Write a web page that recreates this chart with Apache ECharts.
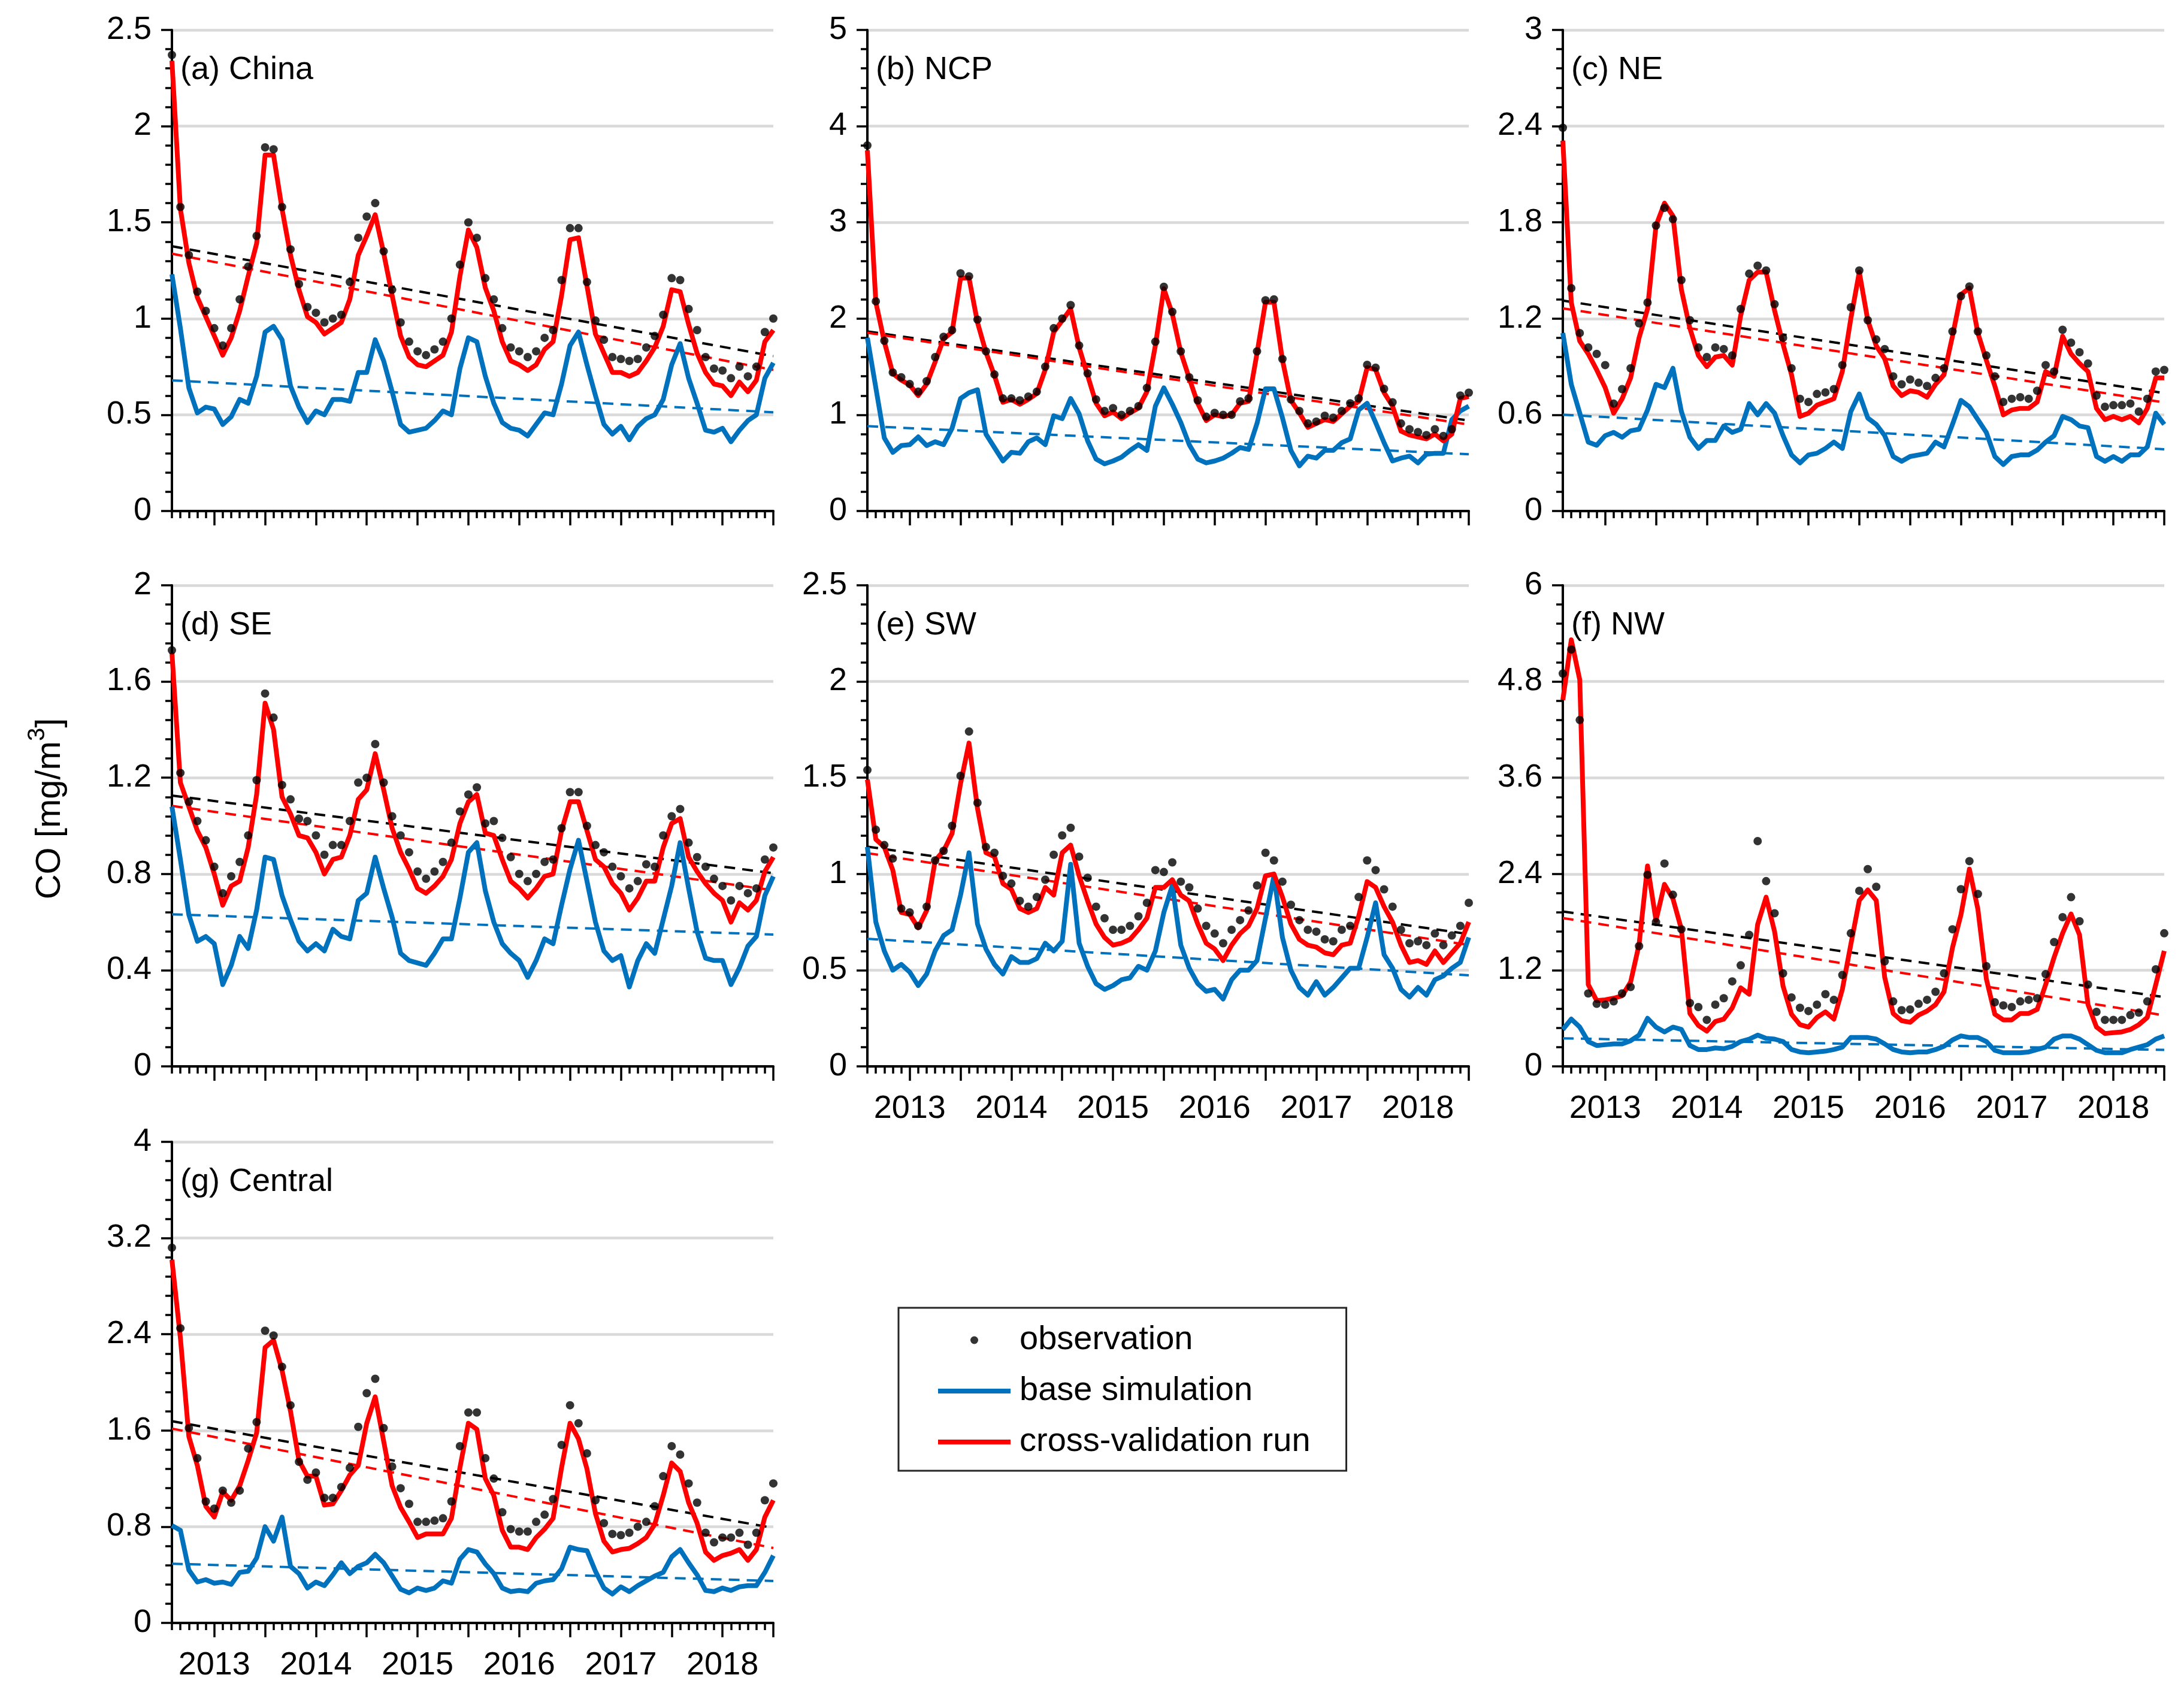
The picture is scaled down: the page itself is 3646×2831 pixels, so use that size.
<!DOCTYPE html>
<html><head><meta charset="utf-8">
<script src="https://cdn.jsdelivr.net/npm/echarts@6/dist/echarts.min.js"></script>
<style>html,body{margin:0;padding:0;background:#fff}#c{width:3646px;height:2831px}</style>
</head><body><div id="c"></div>
<script>
const years = ['2013','2014','2015','2016','2017','2018'];
const months = [];
years.forEach(y => { for (let m = 1; m <= 12; m++) months.push(y + '-' + String(m).padStart(2, '0')); });

// (a) China
const obsChina  = [2.37,1.58,1.33,1.14,1.04,0.95,0.86,0.95,1.10,1.27,1.43,1.89, 1.88,1.58,1.36,1.18,1.06,1.03,0.98,1.00,1.02,1.19,1.42,1.53, 1.60,1.35,1.15,0.98,0.88,0.83,0.81,0.84,0.88,1.00,1.28,1.50, 1.42,1.21,1.10,0.95,0.85,0.83,0.80,0.83,0.90,0.94,1.20,1.47, 1.47,1.19,0.99,0.89,0.80,0.79,0.78,0.79,0.85,0.91,1.02,1.21, 1.20,1.05,0.94,0.80,0.74,0.73,0.69,0.75,0.70,0.75,0.93,1.00];
const cvChina   = [2.34,1.57,1.29,1.11,1.01,0.91,0.81,0.90,1.04,1.22,1.39,1.85, 1.85,1.57,1.33,1.15,1.01,0.98,0.92,0.95,0.98,1.10,1.33,1.43, 1.54,1.34,1.12,0.91,0.80,0.76,0.75,0.78,0.81,0.93,1.22,1.46, 1.37,1.16,1.04,0.88,0.78,0.76,0.73,0.76,0.84,0.88,1.12,1.41, 1.42,1.17,0.92,0.82,0.72,0.72,0.70,0.72,0.78,0.85,0.96,1.15, 1.14,0.97,0.82,0.72,0.66,0.65,0.60,0.67,0.62,0.68,0.88,0.94];
const baseChina = [1.23,0.95,0.64,0.51,0.54,0.53,0.45,0.49,0.58,0.56,0.70,0.93, 0.96,0.89,0.65,0.54,0.46,0.52,0.50,0.58,0.58,0.57,0.72,0.72, 0.89,0.78,0.62,0.45,0.41,0.42,0.43,0.47,0.52,0.50,0.74,0.90, 0.88,0.70,0.56,0.46,0.43,0.42,0.39,0.45,0.51,0.50,0.66,0.86, 0.93,0.76,0.60,0.45,0.40,0.44,0.37,0.44,0.48,0.50,0.58,0.76, 0.87,0.69,0.56,0.42,0.41,0.43,0.36,0.42,0.47,0.50,0.69,0.77];
const trendChina = { obs: [1.376, 0.805], cv: [1.337, 0.733], base: [0.679, 0.513] };

// (b) NCP
const obsNCP  = [3.80,2.18,1.77,1.44,1.39,1.32,1.24,1.35,1.60,1.81,1.88,2.47, 2.44,1.99,1.66,1.42,1.17,1.17,1.15,1.19,1.24,1.50,1.90,2.00, 2.14,1.72,1.43,1.16,1.04,1.07,1.00,1.04,1.09,1.28,1.76,2.33, 2.07,1.66,1.39,1.15,0.98,1.02,1.00,1.00,1.14,1.17,1.66,2.19, 2.20,1.58,1.16,1.04,0.91,0.93,0.99,0.97,1.04,1.12,1.17,1.52, 1.49,1.27,1.13,0.91,0.85,0.82,0.79,0.85,0.78,0.85,1.20,1.23];
const cvNCP   = [3.75,2.17,1.76,1.43,1.36,1.31,1.20,1.32,1.55,1.79,1.86,2.42, 2.42,1.96,1.65,1.41,1.13,1.16,1.11,1.16,1.22,1.47,1.86,1.98, 2.10,1.70,1.41,1.12,0.99,1.03,0.96,1.02,1.07,1.24,1.72,2.31, 2.05,1.65,1.38,1.12,0.94,1.00,0.98,1.00,1.12,1.14,1.64,2.17, 2.17,1.57,1.15,1.02,0.87,0.91,0.95,0.93,1.01,1.09,1.14,1.49, 1.47,1.23,1.09,0.83,0.79,0.77,0.75,0.80,0.73,0.80,1.17,1.19];
const baseNCP = [1.80,1.28,0.76,0.61,0.68,0.69,0.77,0.68,0.72,0.69,0.86,1.17, 1.23,1.26,0.80,0.66,0.52,0.61,0.60,0.72,0.76,0.69,0.99,0.96, 1.17,1.01,0.73,0.54,0.49,0.52,0.56,0.63,0.69,0.63,1.09,1.28, 1.11,0.92,0.69,0.54,0.50,0.52,0.55,0.60,0.66,0.64,0.91,1.27, 1.27,0.97,0.63,0.47,0.57,0.55,0.63,0.63,0.71,0.75,1.05,1.12, 0.92,0.71,0.52,0.55,0.57,0.50,0.59,0.60,0.60,0.95,1.04,1.09];
const trendNCP = { obs: [1.867, 0.940], cv: [1.853, 0.899], base: [0.882, 0.590] };

// (c) NE
const obsNE  = [2.39,1.39,1.11,1.02,0.98,0.91,0.67,0.76,0.89,1.17,1.30,1.78, 1.89,1.82,1.44,1.19,1.02,0.96,1.02,1.01,0.97,1.26,1.48,1.53, 1.50,1.29,1.08,0.89,0.70,0.68,0.73,0.74,0.76,0.91,1.27,1.50, 1.19,1.07,1.01,0.84,0.79,0.82,0.80,0.78,0.83,0.89,1.12,1.34, 1.40,1.12,0.97,0.84,0.68,0.70,0.71,0.70,0.75,0.91,0.87,1.13, 1.05,0.99,0.92,0.72,0.65,0.66,0.66,0.67,0.62,0.70,0.87,0.88];
const cvNE   = [2.31,1.30,1.06,0.98,0.88,0.77,0.61,0.70,0.83,1.08,1.26,1.78, 1.92,1.84,1.38,1.14,0.97,0.90,0.96,0.97,0.91,1.22,1.44,1.49, 1.49,1.25,1.04,0.85,0.59,0.61,0.66,0.68,0.70,0.87,1.20,1.49, 1.19,1.03,0.95,0.78,0.72,0.75,0.74,0.71,0.79,0.85,1.09,1.35, 1.39,1.11,0.94,0.78,0.60,0.63,0.64,0.64,0.68,0.87,0.84,1.09, 0.98,0.92,0.87,0.64,0.57,0.59,0.57,0.59,0.55,0.64,0.83,0.83];
const baseNE = [1.11,0.79,0.61,0.43,0.41,0.47,0.49,0.46,0.50,0.51,0.63,0.79, 0.77,0.89,0.62,0.46,0.39,0.44,0.44,0.53,0.49,0.51,0.67,0.60, 0.67,0.61,0.47,0.35,0.30,0.35,0.36,0.39,0.43,0.39,0.62,0.73, 0.58,0.54,0.47,0.34,0.31,0.34,0.35,0.36,0.43,0.40,0.54,0.69, 0.65,0.57,0.49,0.34,0.29,0.34,0.35,0.35,0.38,0.43,0.47,0.59, 0.57,0.53,0.52,0.34,0.31,0.34,0.31,0.35,0.35,0.40,0.61,0.54];
const trendNE = { obs: [1.312, 0.735], cv: [1.264, 0.677], base: [0.601, 0.385] };

// (d) SE
const obsSE  = [1.73,1.22,1.10,1.02,0.94,0.83,0.72,0.79,0.85,0.96,1.19,1.55, 1.45,1.17,1.11,1.03,1.02,0.96,0.88,0.92,0.92,1.02,1.18,1.20, 1.34,1.18,1.04,0.96,0.89,0.81,0.78,0.81,0.85,0.93,1.06,1.13, 1.16,1.01,1.02,0.95,0.87,0.80,0.77,0.80,0.85,0.86,0.99,1.14, 1.14,1.00,0.92,0.89,0.83,0.79,0.74,0.77,0.84,0.83,0.96,1.04, 1.07,0.93,0.87,0.83,0.78,0.75,0.69,0.75,0.72,0.74,0.86,0.91];
const cvSE   = [1.72,1.18,1.08,0.98,0.91,0.80,0.67,0.75,0.77,0.91,1.13,1.51, 1.40,1.12,1.05,0.96,0.95,0.89,0.80,0.86,0.87,0.96,1.11,1.15, 1.30,1.15,0.99,0.89,0.82,0.74,0.72,0.75,0.79,0.86,1.01,1.10, 1.13,0.97,0.96,0.86,0.77,0.74,0.70,0.74,0.79,0.80,0.98,1.10, 1.10,0.98,0.86,0.83,0.76,0.72,0.65,0.70,0.77,0.77,0.91,1.01, 1.03,0.87,0.81,0.76,0.72,0.69,0.60,0.68,0.65,0.69,0.81,0.87];
const baseSE = [1.08,0.86,0.63,0.52,0.54,0.51,0.34,0.42,0.54,0.49,0.65,0.87, 0.86,0.71,0.61,0.52,0.48,0.51,0.48,0.57,0.54,0.53,0.69,0.72, 0.87,0.74,0.62,0.47,0.44,0.43,0.42,0.47,0.53,0.53,0.70,0.89, 0.93,0.73,0.60,0.51,0.47,0.44,0.37,0.44,0.53,0.51,0.67,0.82, 0.94,0.77,0.60,0.48,0.44,0.46,0.33,0.44,0.51,0.47,0.61,0.75, 0.93,0.74,0.56,0.45,0.44,0.44,0.34,0.41,0.50,0.54,0.71,0.79];
const trendSE = { obs: [1.126, 0.803], cv: [1.083, 0.732], base: [0.632, 0.548] };

// (e) SW
const obsSW  = [1.54,1.23,1.15,1.08,0.82,0.80,0.73,0.83,1.07,1.12,1.25,1.51, 1.74,1.37,1.14,1.11,0.99,0.95,0.86,0.83,0.88,0.97,1.10,1.20, 1.24,1.09,0.98,0.83,0.77,0.71,0.71,0.73,0.78,0.85,1.02,1.01, 1.06,0.96,0.93,0.82,0.73,0.69,0.64,0.71,0.76,0.81,0.94,1.11, 1.07,0.96,0.84,0.76,0.71,0.70,0.66,0.65,0.71,0.73,0.88,1.07, 1.02,0.92,0.83,0.71,0.64,0.65,0.63,0.69,0.63,0.68,0.73,0.85];
const cvSW   = [1.49,1.18,1.14,1.02,0.80,0.79,0.72,0.81,1.07,1.12,1.21,1.47, 1.68,1.34,1.11,1.09,0.95,0.92,0.82,0.80,0.82,0.93,0.89,1.11, 1.15,0.99,0.86,0.74,0.67,0.63,0.64,0.66,0.71,0.77,0.93,0.93, 0.97,0.89,0.86,0.74,0.64,0.61,0.55,0.63,0.69,0.73,0.82,0.99, 1.00,0.88,0.74,0.66,0.63,0.62,0.59,0.58,0.63,0.64,0.78,0.96, 0.93,0.83,0.75,0.63,0.54,0.55,0.53,0.60,0.54,0.59,0.64,0.75];
const baseSW = [1.14,0.75,0.60,0.50,0.53,0.49,0.42,0.48,0.60,0.68,0.71,0.89, 1.11,0.74,0.61,0.53,0.48,0.57,0.54,0.54,0.56,0.64,0.60,0.65, 1.05,0.64,0.52,0.43,0.40,0.42,0.45,0.46,0.52,0.50,0.60,0.80, 0.94,0.63,0.51,0.43,0.39,0.40,0.35,0.45,0.50,0.50,0.55,0.77, 0.99,0.67,0.50,0.41,0.37,0.44,0.37,0.41,0.46,0.51,0.51,0.67, 0.85,0.58,0.51,0.40,0.36,0.41,0.37,0.45,0.47,0.51,0.54,0.67];
const trendSW = { obs: [1.142, 0.687], cv: [1.108, 0.631], base: [0.663, 0.473] };

// (f) NW
const obsNW  = [4.90,5.20,4.32,0.91,0.78,0.77,0.81,0.91,0.99,1.50,2.39,1.80, 2.53,2.14,1.71,0.79,0.74,0.58,0.77,0.85,1.06,1.26,1.64,2.81, 2.31,1.91,1.16,0.86,0.73,0.69,0.77,0.90,0.83,1.14,1.66,2.19, 2.46,2.24,1.31,0.81,0.70,0.71,0.78,0.83,0.93,1.16,1.71,2.21, 2.56,2.15,1.25,0.80,0.76,0.74,0.81,0.83,0.85,1.15,1.55,1.86, 2.11,1.81,1.02,0.68,0.58,0.58,0.58,0.64,0.67,0.81,1.21,1.66];
const cvNW   = [4.57,5.32,4.82,1.02,0.82,0.83,0.85,0.88,1.05,1.52,2.50,1.82, 2.27,2.09,1.71,0.66,0.51,0.44,0.56,0.59,0.73,0.98,0.90,1.77, 2.11,1.68,1.00,0.65,0.52,0.49,0.61,0.68,0.59,0.96,1.52,2.07, 2.20,2.07,1.11,0.66,0.57,0.55,0.64,0.69,0.77,0.93,1.48,1.89, 2.46,1.96,1.09,0.65,0.58,0.58,0.66,0.66,0.71,1.02,1.36,1.66, 1.90,1.64,0.77,0.49,0.41,0.42,0.43,0.46,0.52,0.61,1.02,1.44];
const baseNW = [0.46,0.59,0.49,0.31,0.26,0.27,0.28,0.28,0.32,0.39,0.60,0.49, 0.43,0.49,0.46,0.26,0.21,0.21,0.23,0.22,0.25,0.31,0.34,0.39, 0.35,0.34,0.31,0.21,0.18,0.17,0.18,0.19,0.21,0.24,0.36,0.36, 0.36,0.34,0.28,0.21,0.18,0.17,0.18,0.18,0.21,0.25,0.33,0.38, 0.36,0.36,0.31,0.20,0.17,0.17,0.17,0.18,0.21,0.24,0.34,0.38, 0.38,0.34,0.27,0.20,0.17,0.17,0.17,0.21,0.24,0.27,0.34,0.38];
const trendNW = { obs: [1.932, 0.864], cv: [1.850, 0.636], base: [0.350, 0.205] };

// (g) Central
const obsCentral  = [3.12,2.45,1.62,1.37,1.01,0.95,1.10,1.00,1.10,1.45,1.67,2.43, 2.39,2.13,1.81,1.34,1.19,1.25,1.04,1.04,1.13,1.29,1.63,1.91, 2.03,1.62,1.30,1.12,0.99,0.84,0.84,0.85,0.87,1.01,1.47,1.75, 1.75,1.37,1.20,0.92,0.78,0.76,0.76,0.84,0.90,1.03,1.48,1.81, 1.66,1.41,1.02,0.83,0.74,0.73,0.75,0.80,0.84,0.97,1.22,1.47, 1.40,1.16,1.00,0.75,0.67,0.71,0.71,0.75,0.65,0.75,1.02,1.16];
const cvCentral   = [3.02,2.37,1.55,1.31,0.97,0.88,1.09,1.02,1.14,1.35,1.58,2.29, 2.35,2.10,1.76,1.35,1.22,1.22,0.98,0.99,1.10,1.23,1.31,1.66, 1.88,1.51,1.14,0.96,0.84,0.71,0.74,0.74,0.74,0.87,1.29,1.66, 1.61,1.20,1.06,0.77,0.63,0.63,0.61,0.71,0.78,0.87,1.29,1.66, 1.53,1.28,0.91,0.68,0.59,0.61,0.62,0.66,0.71,0.82,1.06,1.33, 1.26,1.00,0.83,0.59,0.52,0.56,0.58,0.61,0.52,0.61,0.88,1.02];
const baseCentral = [0.81,0.77,0.44,0.34,0.36,0.33,0.34,0.32,0.42,0.43,0.54,0.80, 0.68,0.88,0.47,0.41,0.29,0.34,0.31,0.40,0.50,0.41,0.47,0.50, 0.57,0.50,0.39,0.28,0.25,0.29,0.27,0.29,0.35,0.33,0.53,0.61, 0.59,0.49,0.41,0.29,0.26,0.27,0.26,0.33,0.35,0.36,0.45,0.63, 0.61,0.60,0.43,0.29,0.24,0.30,0.26,0.31,0.35,0.39,0.42,0.55, 0.61,0.50,0.40,0.27,0.26,0.29,0.27,0.30,0.31,0.31,0.42,0.56];
const trendCentral = { obs: [1.677, 0.790], cv: [1.616, 0.623], base: [0.492, 0.349] };

const yMax = [2.5, 5, 3, 2, 2.5, 6, 4];

const panels = [
  { title: '(a) China',   obs: obsChina,   cv: cvChina,   base: baseChina,   tr: trendChina,   max: yMax[0], left: 287,  top: 50,   labels: false },
  { title: '(b) NCP',     obs: obsNCP,     cv: cvNCP,     base: baseNCP,     tr: trendNCP,     max: yMax[1], left: 1448, top: 50,   labels: false },
  { title: '(c) NE',      obs: obsNE,      cv: cvNE,      base: baseNE,      tr: trendNE,      max: yMax[2], left: 2609, top: 50,   labels: false },
  { title: '(d) SE',      obs: obsSE,      cv: cvSE,      base: baseSE,      tr: trendSE,      max: yMax[3], left: 287,  top: 977,  labels: false },
  { title: '(e) SW',      obs: obsSW,      cv: cvSW,      base: baseSW,      tr: trendSW,      max: yMax[4], left: 1448, top: 977,  labels: true },
  { title: '(f) NW',      obs: obsNW,      cv: cvNW,      base: baseNW,      tr: trendNW,      max: yMax[5], left: 2609, top: 977,  labels: true },
  { title: '(g) Central', obs: obsCentral, cv: cvCentral, base: baseCentral, tr: trendCentral, max: yMax[6], left: 287,  top: 1906, labels: true }
];

const FONT = "'Liberation Sans', Arial, Helvetica, sans-serif";
const W = 1004, H = 803;
const BLUE = '#0072bd', RED = '#ff0000';
const last = months.length - 1;

const grid = [], xAxis = [], yAxis = [], series = [], title = [];
panels.forEach((p, i) => {
  grid.push({ left: p.left, top: p.top, width: W, height: H, containLabel: false });
  // minor (monthly) ticks + axis line
  xAxis.push({
    type: 'category', gridIndex: i, data: months, boundaryGap: false, position: 'bottom',
    axisLine: { show: true, lineStyle: { color: '#000', width: 4 } },
    axisTick: { show: true, interval: 0, length: 12, lineStyle: { color: '#000', width: 3.5 } },
    axisLabel: { show: false }, splitLine: { show: false }
  });
  // major (half-year) ticks + year labels
  xAxis.push({
    type: 'category', gridIndex: i, data: months, boundaryGap: false, position: 'bottom',
    axisLine: { show: false },
    axisTick: { show: true, interval: (idx) => idx % 6 === 5, length: 24, lineStyle: { color: '#000', width: 3.5 } },
    axisLabel: { show: p.labels, interval: (idx) => idx % 12 === 5, formatter: (v) => v.slice(0, 4),
                 margin: 44, fontSize: 54, color: '#000', fontFamily: FONT },
    splitLine: { show: false }
  });
  yAxis.push({
    type: 'value', gridIndex: i, min: 0, max: p.max, interval: p.max / 5,
    axisLine: { show: true, lineStyle: { color: '#000', width: 4 } },
    axisTick: { show: true, length: 18, lineStyle: { color: '#000', width: 3.5 } },
    minorTick: { show: true, splitNumber: 5, length: 11, lineStyle: { color: '#000', width: 3.5 } },
    splitLine: { show: true, lineStyle: { color: '#d9d9d9', width: 4.5 } },
    minorSplitLine: { show: false },
    axisLabel: { margin: 34, fontSize: 54, color: '#000', fontFamily: FONT,
                 formatter: (v) => String(Math.round(v * 100) / 100) }
  });
  title.push({ text: p.title, left: p.left + 14, top: p.top + 40, padding: 0,
               textStyle: { fontSize: 54, fontWeight: 'normal', color: '#000', fontFamily: FONT } });

  const xi = 2 * i;
  const dash = [18, 12];
  [['obs', '#000'], ['cv', RED], ['base', BLUE]].forEach(([k, c]) => {
    series.push({
      type: 'line', xAxisIndex: xi, yAxisIndex: i, silent: true, symbol: 'none', z: 2,
      data: [[0, p.tr[k][0]], [last, p.tr[k][1]]],
      lineStyle: { color: c, width: 4, type: dash }
    });
  });
  series.push({
    name: 'base simulation', type: 'line', xAxisIndex: xi, yAxisIndex: i, symbol: 'none', showSymbol: false, z: 3,
    data: p.base, itemStyle: { color: BLUE }, lineStyle: { color: BLUE, width: 8, join: 'round' }
  });
  series.push({
    name: 'cross-validation run', type: 'line', xAxisIndex: xi, yAxisIndex: i, symbol: 'none', showSymbol: false, z: 4,
    data: p.cv, itemStyle: { color: RED }, lineStyle: { color: RED, width: 8, join: 'round' }
  });
  series.push({
    name: 'observation', type: 'scatter', xAxisIndex: xi, yAxisIndex: i, symbol: 'circle', symbolSize: 14, z: 5,
    data: p.obs, itemStyle: { color: '#000' }
  });
});

const lineIcon = 'path://M0 0H121V8H0Z';
const chart = echarts.init(document.getElementById('c'), null, { renderer: 'canvas' });
chart.setOption({
  animation: false,
  backgroundColor: '#fff',
  title, grid, xAxis, yAxis, series,
  legend: {
    orient: 'vertical', left: 1500, top: 2183,
    padding: [24, 60, 18, 66],
    borderColor: '#262626', borderWidth: 3, backgroundColor: '#fff',
    itemWidth: 121, itemHeight: 13, itemGap: 25,
    textStyle: { fontSize: 56, color: '#000', fontFamily: FONT, lineHeight: 60, padding: [0, 0, 0, 10] },
    data: [
      { name: 'observation', icon: 'circle' },
      { name: 'base simulation', icon: lineIcon },
      { name: 'cross-validation run', icon: lineIcon }
    ],
    selectedMode: false
  },
  graphic: [{
    type: 'text', x: 78, y: 1350, rotation: Math.PI / 2,
    style: {
      text: '{a|CO [mg/m}{s|3}{a|]}', fontFamily: FONT, fill: '#000', align: 'center', verticalAlign: 'middle',
      rich: {
        a: { fontSize: 58, fontFamily: FONT, fill: '#000', lineHeight: 70, verticalAlign: 'bottom' },
        s: { fontSize: 40, fontFamily: FONT, fill: '#000', lineHeight: 70, verticalAlign: 'top' }
      }
    }
  }]
});
</script></body></html>
